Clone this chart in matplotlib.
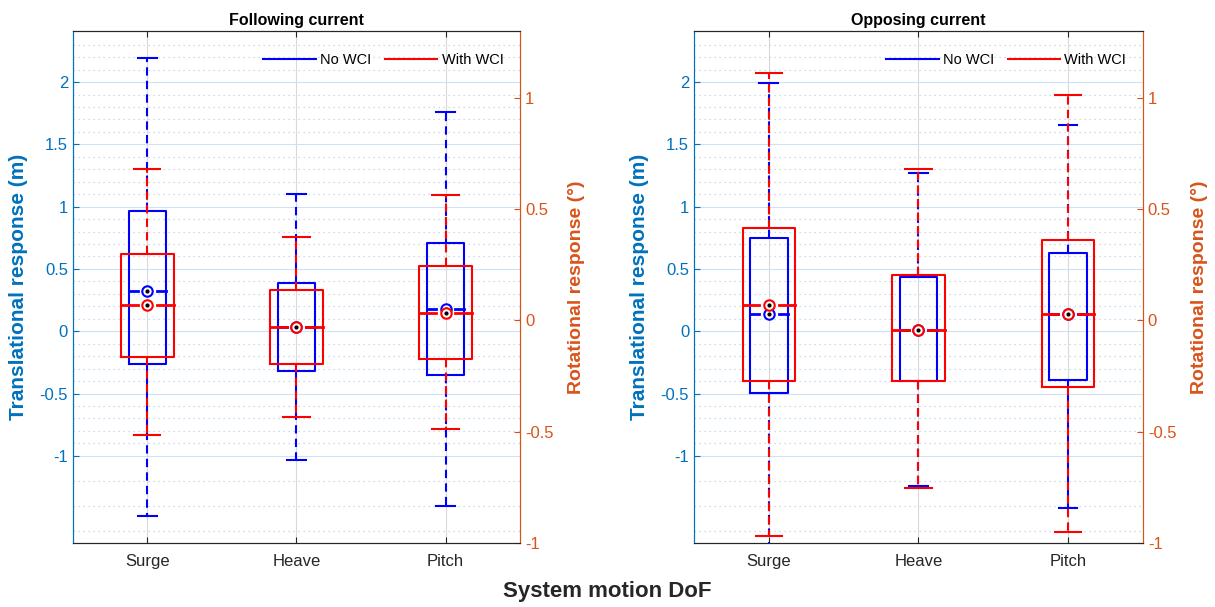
import matplotlib
matplotlib.use('Agg')
import matplotlib.pyplot as plt
from matplotlib.lines import Line2D
from matplotlib.ticker import FixedLocator, FormatStrFormatter

plt.rcParams['font.family'] = ['Liberation Sans', 'DejaVu Sans']
plt.rcParams['axes.unicode_minus'] = False

# degrees of freedom
dof = ['Surge', 'Heave', 'Pitch']

# Following current, no wave-current interaction
fol_no_hi = [2.19, 1.10, 1.76]
fol_no_q3 = [0.965, 0.39, 0.705]
fol_no_med = [0.32, 0.035, 0.175]
fol_no_q1 = [-0.26, -0.32, -0.35]
fol_no_lo = [-1.48, -1.035, -1.40]

# Following current, with WCI
fol_wci_hi = [1.30, 0.755, 1.09]
fol_wci_q3 = [0.62, 0.33, 0.525]
fol_wci_med = [0.21, 0.035, 0.145]
fol_wci_q1 = [-0.21, -0.265, -0.22]
fol_wci_lo = [-0.83, -0.69, -0.785]

# Opposing current, no WCI
opp_no_hi = [1.995, 1.27, 1.655]
opp_no_q3 = [0.75, 0.435, 0.63]
opp_no_med = [0.135, 0.01, 0.135]
opp_no_q1 = [-0.495, -0.40, -0.39]
opp_no_lo = [-1.75, -1.245, -1.415]

# Opposing current, with WCI
opp_wci_hi = [2.075, 1.305, 1.90]
opp_wci_q3 = [0.83, 0.45, 0.73]
opp_wci_med = [0.21, 0.01, 0.14]
opp_wci_q1 = [-0.40, -0.40, -0.45]
opp_wci_lo = [-1.645, -1.255, -1.615]

blue_ax = '#0072BD'
orange_ax = '#D95319'
dark = '#262626'


def draw_boxes(ax, lo, q1, med, q3, hi, color, width):
    stats = []
    for i in range(len(dof)):
        stats.append({'whislo': lo[i], 'q1': q1[i], 'med': med[i],
                      'q3': q3[i], 'whishi': hi[i], 'fliers': []})
    pos = [1, 2, 3]
    ax.bxp(stats, positions=pos, widths=width, capwidths=width / 2,
           showfliers=False, manage_ticks=False,
           boxprops=dict(color=color, lw=1.5),
           whiskerprops=dict(color=color, lw=1.5, linestyle=(0, (4, 2.5))),
           capprops=dict(color=color, lw=1.5),
           medianprops=dict(visible=False))
    gap = 0.065
    for i in range(len(dof)):
        x = pos[i]
        ax.plot([x - width / 2, x - gap], [med[i], med[i]], color=color, lw=2)
        ax.plot([x + gap, x + width / 2], [med[i], med[i]], color=color, lw=2)
        ax.plot(x, med[i], 'o', mfc='white', mec=color, ms=7.5, mew=1.5)
        ax.plot(x, med[i], '.', color='k', ms=4)


def setup_panel(ax, title):
    ax.set_xlim(0.5, 3.5)
    ax.set_ylim(-1.7, 2.41)
    ax.set_xticks([1, 2, 3])
    ax.set_xticklabels(dof, fontsize=12, color=dark)
    ax.yaxis.set_major_locator(FixedLocator([-1, -0.5, 0, 0.5, 1, 1.5, 2]))
    minor = [-1.6, -1.4, -1.2]
    for k in range(-9, 24):
        if k % 5 != 0:
            minor.append(k / 10)
    ax.yaxis.set_minor_locator(FixedLocator(minor))
    ax.yaxis.set_major_formatter(FormatStrFormatter('%g'))
    ax.tick_params(axis='y', which='major', colors=blue_ax, direction='in', length=4, labelsize=12)
    ax.tick_params(axis='y', which='minor', length=0)
    ax.tick_params(axis='x', direction='in', top=True, length=4, color=dark, pad=8)
    ax.set_axisbelow(True)
    ax.grid(axis='x', color='#d9d9d9', lw=0.8)
    ax.grid(axis='y', which='major', color='#cfe2f3', lw=0.8)
    ax.grid(axis='y', which='minor', color='#b9d3ea', lw=0.9, linestyle=(0, (1, 3)))
    ax.set_title(title, fontsize=11.5, fontweight='bold', color='k', pad=4)
    ax.set_ylabel('Translational response (m)', fontsize=15, fontweight='bold', color=blue_ax)
    ax.yaxis.set_label_coords(-0.10, 0.5)
    ax.spines['left'].set_color(blue_ax)
    ax.spines['top'].set_color(dark)
    ax.spines['bottom'].set_color(dark)
    ax.spines['right'].set_color(orange_ax)

    ax2 = ax.twinx()
    ax2.set_ylim(-1, 1.30)
    ax2.set_yticks([-1, -0.5, 0, 0.5, 1])
    ax2.yaxis.set_major_formatter(FormatStrFormatter('%g'))
    ax2.tick_params(axis='y', colors=orange_ax, direction='in', length=4, labelsize=12)
    ax2.set_ylabel('Rotational response (°)', fontsize=14, fontweight='bold', color=orange_ax)
    ax2.yaxis.set_label_coords(1.108, 0.5)
    ax2.spines['right'].set_color(orange_ax)
    ax2.spines['left'].set_color(blue_ax)
    ax2.spines['top'].set_color(dark)
    ax2.spines['bottom'].set_color(dark)

    handles = [Line2D([], [], color='blue', lw=1.5), Line2D([], [], color='red', lw=1.5)]
    ax.legend(handles, ['No WCI', 'With WCI'], ncol=2, frameon=False, loc='center right',
              bbox_to_anchor=(0.963, 0.943), borderaxespad=0, borderpad=0,
              handlelength=3.6, handletextpad=0.3, columnspacing=0.9, fontsize=10.5)


fig = plt.figure(figsize=(12.15, 6.07), dpi=100)
ax_l = fig.add_axes([0.060, 0.1054, 0.368, 0.8435])
ax_r = fig.add_axes([0.5712, 0.1054, 0.3695, 0.8435])

draw_boxes(ax_l, fol_no_lo, fol_no_q1, fol_no_med, fol_no_q3, fol_no_hi, 'blue', 0.25)
draw_boxes(ax_l, fol_wci_lo, fol_wci_q1, fol_wci_med, fol_wci_q3, fol_wci_hi, 'red', 0.35)
setup_panel(ax_l, 'Following current')

draw_boxes(ax_r, opp_no_lo, opp_no_q1, opp_no_med, opp_no_q3, opp_no_hi, 'blue', 0.25)
draw_boxes(ax_r, opp_wci_lo, opp_wci_q1, opp_wci_med, opp_wci_q3, opp_wci_hi, 'red', 0.35)
setup_panel(ax_r, 'Opposing current')

fig.text(0.5, 0.025, 'System motion DoF', ha='center', va='center', fontsize=16,
         fontweight='bold', color=dark)

fig.savefig('out.png', dpi=100)
